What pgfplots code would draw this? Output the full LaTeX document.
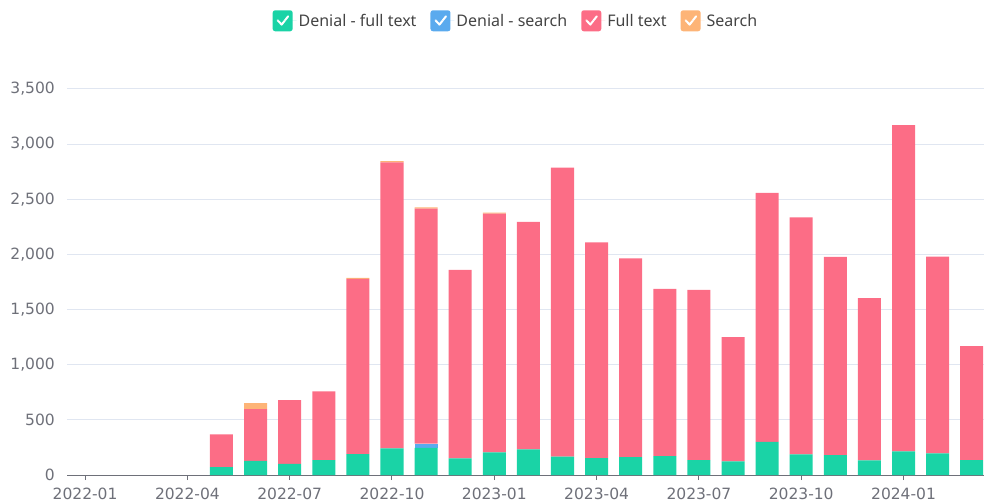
\documentclass[border=0pt]{standalone}
\usepackage{pgfplots}
\pgfplotsset{compat=1.18}
\usepackage{pgfplotstable}
\usepackage{fontspec}
\setmainfont{Noto Sans}
\newfontfamily\tickfont{DejaVu Sans}
\definecolor{cTeal}{HTML}{1AD3A6}
\definecolor{cBlue}{HTML}{5AAAEE}
\definecolor{cPink}{HTML}{FC6D86}
\definecolor{cOrange}{HTML}{FDB477}
\definecolor{axisgray}{HTML}{6E7079}
\definecolor{gridgray}{HTML}{E0E6F1}
\definecolor{legtext}{HTML}{444444}

% month index (0 = 2022-01), stacked components
\pgfplotstableread{
m  dft  ds  ft    s
4  72   0   296   0
5  129  0   468   54
6  102  0   576   0
7  136  0   623   0
8  190  0   1589  8
9  241  0   2594  10
10 247  38  2131  10
11 151  0   1709  0
12 205  0   2165  8
13 232  0   2064  0
14 166  0   2621  0
15 154  0   1955  0
16 163  0   1801  0
17 172  0   1516  0
18 136  0   1543  0
19 124  0   1126  0
20 301  0   2257  0
21 187  0   2148  0
22 181  0   1796  0
23 133  0   1470  0
24 214  0   2959  0
25 196  0   1784  0
26 136  0   1033  0
}\monthly

\begin{document}
\begin{tikzpicture}[font=\fontsize{16}{19}\selectfont]
\useasboundingbox (0pt,0pt) rectangle (984pt,503pt);
\begin{axis}[
  at={(67pt,28pt)}, anchor=south west,
  scale only axis, width=917pt, height=386pt,
  ybar stacked, bar width=0.675,
  xmin=-0.53, xmax=26.36, ymin=0, ymax=3500,
  axis x line=bottom, axis y line=left,
  x axis line style={-, draw=axisgray, line width=1pt},
  y axis line style={draw=none},
  xtick={0,3,...,24},
  xticklabels={2022-01,2022-04,2022-07,2022-10,2023-01,2023-04,2023-07,2023-10,2024-01},
  ytick={0,500,...,3500},
  tick align=outside, major tick length=5pt,
  xtick style={draw=axisgray, line width=1pt},
  ytick style={draw=none},
  ymajorgrids, grid style={draw=gridgray, line width=1pt},
  ticklabel style={text=axisgray, font=\tickfont\fontsize{15.5}{18}\selectfont},
  yticklabel style={inner sep=0pt, xshift=-7pt},
  xticklabel style={inner sep=0pt, yshift=-8pt},
  /pgf/number format/.cd, 1000 sep={,}, assume math mode=true,
  /pgfplots/.cd,
  legend columns=-1,
  legend style={at={(0.4896,1.1767)}, anchor=center, draw=none, fill=none,
    text=legtext, /tikz/every even column/.append style={column sep=12pt}},
  legend image code/.code={
    \fill[rounded corners=2.5pt] (0pt,-10.5pt) rectangle (20pt,10.5pt);
    \draw[white, line width=2pt, line cap=round, line join=round, fill=none]
      (5pt,0.5pt) -- (9pt,-3.8pt) -- (15.5pt,4.5pt);
    \path (0pt,0pt) -- (24pt,0pt);
  },
]
\addplot[fill=cTeal, draw=none] table[x=m, y=dft] {\monthly};
\addlegendentry{Denial - full text}
\addplot[fill=cBlue, draw=none] table[x=m, y=ds] {\monthly};
\addlegendentry{Denial - search}
\addplot[fill=cPink, draw=none] table[x=m, y=ft] {\monthly};
\addlegendentry{Full text}
\addplot[fill=cOrange, draw=none] table[x=m, y=s] {\monthly};
\addlegendentry{Search}
\end{axis}
\end{tikzpicture}
\end{document}
